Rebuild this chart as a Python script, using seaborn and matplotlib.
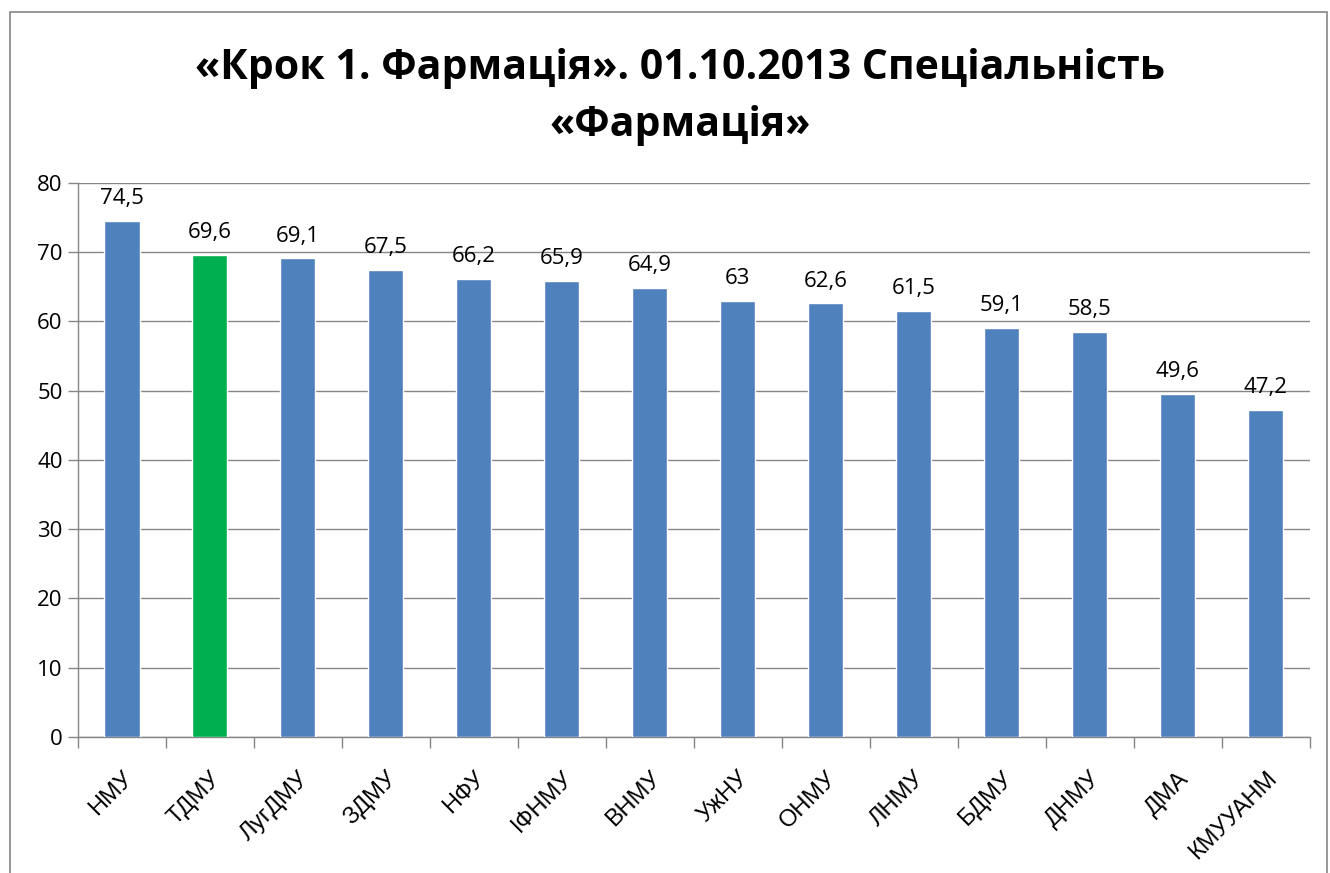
import pandas as pd
import numpy as np
import matplotlib
matplotlib.use("Agg")
import matplotlib.pyplot as plt
import seaborn as sns
from matplotlib.patches import Rectangle

# Дані
universities = ["НМУ", "ТДМУ", "ЛугДМУ", "ЗДМУ", "НФУ", "ІФНМУ", "ВНМУ", "УжНУ",
                "ОНМУ", "ЛНМУ", "БДМУ", "ДНМУ", "ДМА", "КМУУАНМ"]
scores = [74.5, 69.6, 69.1, 67.5, 66.2, 65.9, 64.9, 63, 62.6, 61.5, 59.1, 58.5, 49.6, 47.2]
highlight = "ТДМУ"

df = pd.DataFrame({"uni": universities, "score": scores})

sns.set_style("white")
plt.rcParams["font.family"] = ["Open Sans", "DejaVu Sans"]
plt.rcParams["text.color"] = "black"
plt.rcParams["xtick.color"] = "black"
plt.rcParams["ytick.color"] = "black"

fig = plt.figure(figsize=(13.3, 8.73), dpi=100)
ax = fig.add_axes([0.0586, 0.1558, 0.926, 0.6346])

colors = ["#00B050" if u == highlight else "#4F81BD" for u in universities]
sns.barplot(data=df, x="uni", y="score", hue="uni", palette=colors, legend=False,
            width=0.4, ax=ax, zorder=3, saturation=1)

ax.set_ylim(0, 80)
ax.set_xlim(-0.5, len(universities) - 0.5)
ax.set_yticks(range(0, 81, 10))
ax.yaxis.grid(True, color="#868686", linewidth=1, zorder=0)
ax.set_xlabel("")
ax.set_ylabel("")

# підписи значень
for i, v in enumerate(scores):
    txt = f"{v:g}".replace(".", ",")
    ax.text(i, v + 1.7, txt, ha="center", va="bottom", fontsize=16, color="black")

# осі
for s in ["top", "right"]:
    ax.spines[s].set_visible(False)
for s in ["left", "bottom"]:
    ax.spines[s].set_color("#868686")
    ax.spines[s].set_linewidth(1)

ax.tick_params(axis="y", which="major", length=7, color="#868686", width=1,
               labelsize=16, labelcolor="black", left=True, pad=4)
ax.set_xticks(range(len(universities)))
ax.set_xticklabels(universities, rotation=45, ha="right", rotation_mode="anchor",
                   fontsize=17, color="black", family=["Liberation Sans", "DejaVu Sans"])
ax.tick_params(axis="x", which="major", length=0, pad=22)
ax.set_xticks(np.arange(-0.5, len(universities), 1), minor=True)
ax.tick_params(axis="x", which="minor", length=8, color="#868686", width=1, bottom=True)

fig.text(0.511, 0.889, "«Крок 1. Фармація». 01.10.2013 Спеціальність\n«Фармація»",
         ha="center", va="center", fontsize=29.5, fontweight="bold", color="black",
         linespacing=1.5)

# рамка діаграми
fig.patches.append(Rectangle((10 / 1330, -0.05), 1317 / 1330, 1.05 - 12 / 873,
                             transform=fig.transFigure, fill=False,
                             edgecolor="#868686", linewidth=1.2))

plt.savefig("out.png", dpi=100, facecolor="white")
